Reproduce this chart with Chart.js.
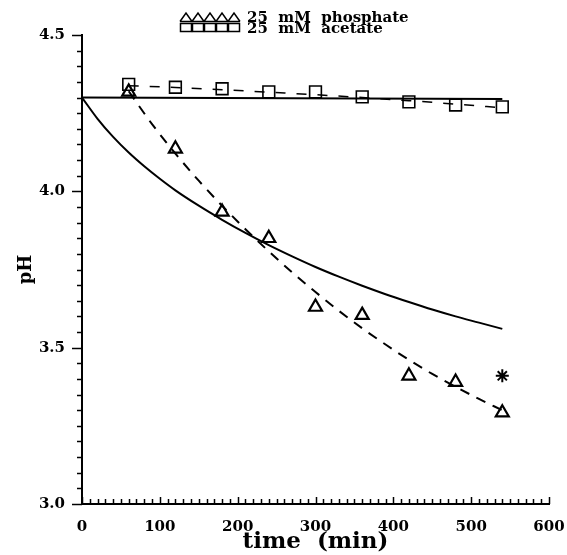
<!DOCTYPE html>
<html>
<head>
<meta charset="utf-8">
<script src="https://cdn.jsdelivr.net/npm/chart.js@4.4.1/dist/chart.umd.min.js"></script>
<style>
html,body{margin:0;padding:0;background:#fff}
#c{display:block}
</style>
</head>
<body>
<canvas id="c" width="567" height="555"></canvas>
<script>
// Données
const sampleTimes=[60,120,180,240,300,360,420,480,540];
const phosphatePH=[4.318,4.136,3.934,3.850,3.630,3.604,3.410,3.390,3.292];
const acetatePH=[4.342,4.333,4.328,4.318,4.318,4.302,4.286,4.276,4.270];
const starTimes=[540];
const starPH=[3.41];

const modelTimes=[0,20,40,60,80,100,120,150,180,210,240,270,300,330,360,390,420,450,480,510,540];
const phosphateModel=[4.300,4.232,4.174,4.124,4.080,4.040,4.003,3.954,3.909,3.867,3.828,3.792,3.758,3.727,3.698,3.671,3.646,3.622,3.600,3.580,3.560];
const acetateModelTimes=[0,540];
const acetateModel=[4.300,4.295];

const fitTimes=[60,90,120,150,180,210,240,270,300,330,360,390,420,450,480,510,540];
const phosphateFit=[4.320,4.215,4.121,4.034,3.954,3.879,3.808,3.741,3.678,3.618,3.562,3.510,3.461,3.416,3.375,3.336,3.300];
const acetateFit=[4.338,4.332,4.325,4.317,4.309,4.300,4.290,4.279,4.267];

const xTicks=[0,100,200,300,400,500,600];
const yTicks=[3.0,3.5,4.0,4.5];
const legendLabels=["25  mM  phosphate","25  mM  acetate"];

const FONT="'DejaVu Serif', serif";
const pts=(xs,ys)=>xs.map((x,i)=>({x:x,y:ys[i]}));

// ---------- Graduations ----------
const tickMarks={
  id:"tickMarks",
  afterDraw(chart){
    const {ctx,scales:{x,y}}=chart;
    ctx.save(); ctx.strokeStyle="#000"; ctx.lineWidth=1.5;
    for(let v=0;v<=600;v+=10){
      const px=Math.round(x.getPixelForValue(v))+0.5, len=(v%100===0)?7:5;
      ctx.beginPath(); ctx.moveTo(px,y.bottom); ctx.lineTo(px,y.bottom-len); ctx.stroke();
    }
    for(let i=0;i<=30;i++){
      const v=3+i*0.05, py=Math.round(y.getPixelForValue(v))+0.5, len=(i%10===0)?10:5;
      ctx.beginPath(); ctx.moveTo(x.left,py); ctx.lineTo(x.left-len,py); ctx.stroke();
    }
    ctx.restore();
  }
};

// ---------- Légende ----------
const legendBox={
  id:"legendBox",
  afterDraw(chart){
    const ctx=chart.ctx; ctx.save();
    ctx.strokeStyle="#000"; ctx.lineWidth=1.5;
    const x0=180, w=12;
    for(let i=0;i<5;i++){
      const l=x0+i*w;
      ctx.beginPath(); ctx.moveTo(l,21.5); ctx.lineTo(l+w/2,13); ctx.lineTo(l+w,21.5); ctx.stroke();
    }
    ctx.beginPath(); ctx.moveTo(x0,21.5); ctx.lineTo(x0+5*w,21.5); ctx.stroke();
    for(let i=0;i<5;i++){ ctx.strokeRect(x0+i*w+0.5,23.5,w-1,8); }
    ctx.fillStyle="#000"; ctx.font="bold 15px "+FONT; ctx.textBaseline="alphabetic";
    ctx.fillText(legendLabels[0],247,22);
    ctx.fillText(legendLabels[1],247,33);
    ctx.restore();
  }
};

const lineDs=(data,width,dash)=>({data:data,showLine:true,pointRadius:0,borderColor:"#000",borderWidth:width,
  borderDash:dash,fill:false,cubicInterpolationMode:"monotone"});

new Chart(document.getElementById("c"),{
  type:"scatter",
  data:{datasets:[
    lineDs(pts(modelTimes,phosphateModel),2,[]),
    lineDs(pts(acetateModelTimes,acetateModel),2,[]),
    lineDs(pts(fitTimes,phosphateFit),2,[10,8]),
    lineDs(pts(sampleTimes,acetateFit),1.5,[10,11]),
    {data:pts(sampleTimes,phosphatePH),pointStyle:"triangle",pointRadius:7.5,pointBorderWidth:2.2,
      pointBorderColor:"#000",pointBackgroundColor:"rgba(0,0,0,0)",showLine:false},
    {data:pts(sampleTimes,acetatePH),pointStyle:"rect",pointRadius:8.3,pointBorderWidth:1.6,
      pointBorderColor:"#000",pointBackgroundColor:"rgba(0,0,0,0)",showLine:false},
    {data:pts(starTimes,starPH),pointStyle:"star",pointRadius:6.5,pointBorderWidth:2,
      pointBorderColor:"#000",showLine:false}
  ]},
  options:{
    responsive:false, animation:false, devicePixelRatio:1,
    layout:{padding:{left:0,right:18,top:35,bottom:0}},
    plugins:{legend:{display:false},tooltip:{enabled:false}},
    scales:{
      x:{type:"linear",min:0,max:600,
        afterFit:s=>{s.height=51; s.paddingLeft=0; s.paddingRight=0;},
        afterBuildTicks:s=>{s.ticks=xTicks.map(v=>({value:v}));},
        grid:{display:false,drawTicks:false},
        border:{display:true,color:"#000",width:2},
        ticks:{padding:14,color:"#000",font:{family:FONT,size:15,weight:"bold"},maxRotation:0,autoSkip:false},
        title:{display:true,text:"time  (min)",color:"#000",font:{family:FONT,size:23,weight:"bold",lineHeight:1},padding:{top:0,bottom:1}}
      },
      y:{type:"linear",min:3,max:4.5,
        afterFit:s=>{s.width=82; s.paddingTop=0; s.paddingBottom=0;},
        afterBuildTicks:s=>{s.ticks=yTicks.map(v=>({value:v}));},
        grid:{display:false,drawTicks:false},
        border:{display:true,color:"#000",width:2},
        ticks:{padding:17,color:"#000",font:{family:FONT,size:15,weight:"bold"},callback:v=>v.toFixed(1)},
        title:{display:true,text:"pH",color:"#000",font:{family:FONT,size:18,weight:"bold",lineHeight:1},padding:{top:17,bottom:0}}
      }
    }
  },
  plugins:[tickMarks,legendBox]
});
</script>
</body>
</html>
